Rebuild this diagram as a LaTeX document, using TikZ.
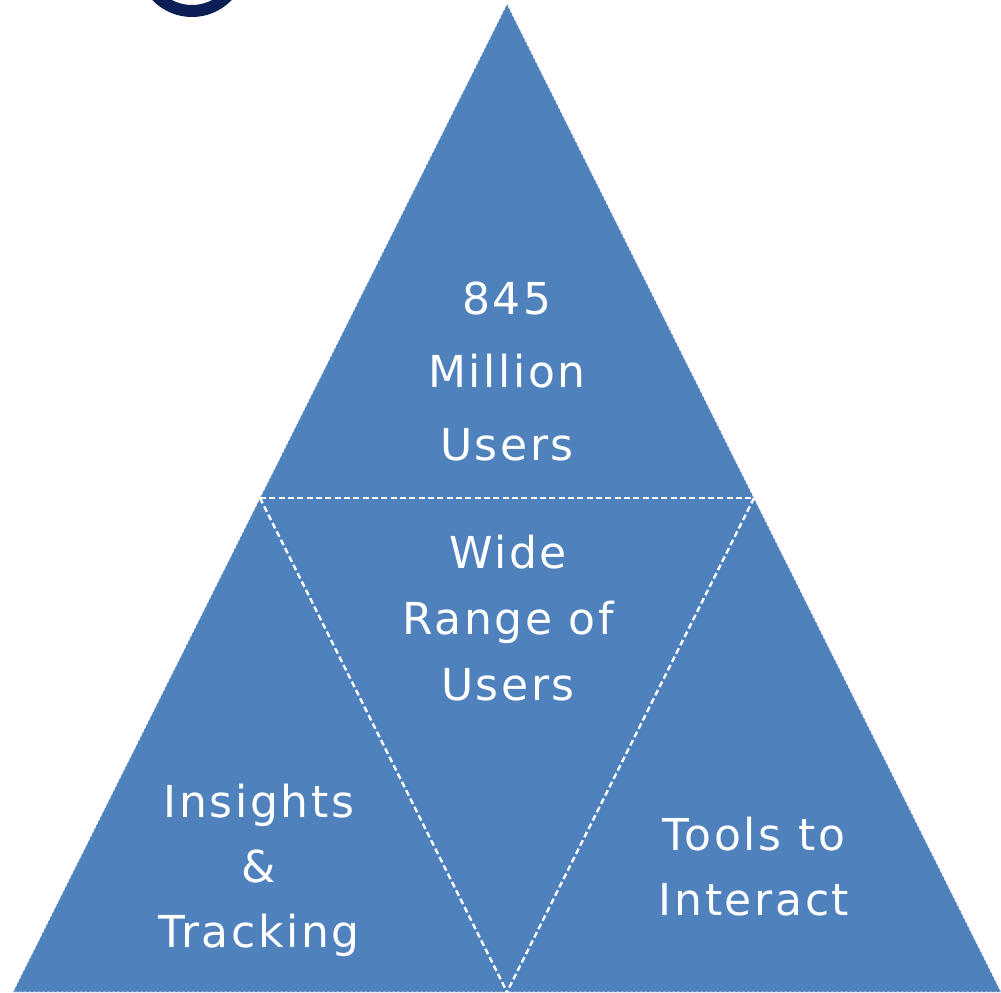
\documentclass[tikz,border=0pt]{standalone}
\usepackage{fontspec}
\newfontfamily\labelfont[LetterSpace=6]{DejaVu Sans}
\usetikzlibrary{calc}
\definecolor{triblue}{HTML}{4F81BD}
\definecolor{ringnavy}{HTML}{0B1E55}

\begin{document}
\begin{tikzpicture}[
	x=0.75pt, y=-0.75pt,
	mitriangulo/.style ={fill=triblue, draw=white!85!gray, line width=0.6pt, dash pattern=on 2pt off 1.5pt},
	milinea/.style ={draw=white, line width=1.8pt, dash pattern=on 4.5pt off 2.5pt},
	mitexto/.style ={text=white, align=center, anchor=base}]

	\useasboundingbox (0,0) rectangle (1001,993);

	% corners of the pyramid
	\coordinate (A) at (507,4);
	\coordinate (L) at (13,992);
	\coordinate (R) at (1001,992);
	\coordinate (ML) at ($(A)!0.5!(L)$);
	\coordinate (MR) at ($(A)!0.5!(R)$);
	\coordinate (MB) at ($(L)!0.5!(R)$);

	\begin{scope}
		\clip (0,0) rectangle (1001,993);
		\draw [ringnavy, line width=9pt] (192,-38) circle (49);
	\end{scope}

	\path [mitriangulo] (A) -- (L) -- (R) -- cycle;

	\draw [milinea] (ML) -- (MR);
	\draw [milinea] (ML) -- (MB);
	\draw [milinea] (MR) -- (MB);

	\node (users) [mitexto, font=\labelfont\fontsize{33}{54.75}\selectfont] at (507,460) {845\\Million\\Users};
	\node (range) [mitexto, font=\labelfont\fontsize{33}{49.5}\selectfont] at (508,700) {Wide\\Range of\\Users};
	\node (insights) [mitexto, font=\labelfont\fontsize{33}{48.75}\selectfont] at (259,947) {Insights\\\&\\Tracking};
	\node (tools) [mitexto, font=\labelfont\fontsize{33}{48.75}\selectfont] at (754,915) {Tools to\\Interact};

\end{tikzpicture}
\end{document}
